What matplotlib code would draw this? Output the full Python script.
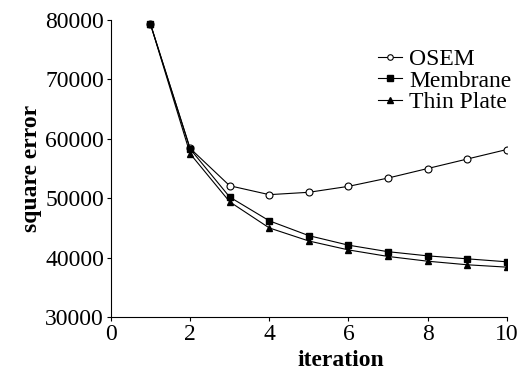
import matplotlib.pyplot as plt

iterations = [1, 2, 3, 4, 5, 6, 7, 8, 9, 10]
osem = [79300, 58400, 52100, 50600, 51000, 52000, 53400, 55000, 56600, 58200]
membrane = [79300, 58300, 50200, 46200, 43700, 42100, 41000, 40300, 39800, 39300]
thin_plate = [79300, 57500, 49400, 45000, 42800, 41300, 40200, 39400, 38800, 38400]

plt.rcParams['font.family'] = ['Liberation Serif', 'DejaVu Serif']

fig = plt.figure(figsize=(5.28, 3.77), dpi=100)
ax = fig.add_axes([0.21, 0.159, 0.75, 0.788])

ax.plot(iterations, osem, color='black', lw=0.8, marker='o', ms=5,
        mfc='white', mec='black', mew=0.8, label='OSEM')
ax.plot(iterations, membrane, color='black', lw=0.8, marker='s', ms=5,
        label='Membrane')
ax.plot(iterations, thin_plate, color='black', lw=0.8, marker='^', ms=5,
        label='Thin Plate')

ax.set_xlim(0, 10)
ax.set_ylim(30000, 80000)
ax.set_xticks([0, 2, 4, 6, 8, 10])
ax.set_yticks([30000, 40000, 50000, 60000, 70000, 80000])
ax.tick_params(labelsize=17, length=3, width=0.8, pad=2)
ax.spines['top'].set_visible(False)
ax.spines['right'].set_visible(False)

ax.set_xlabel('iteration', fontsize=17, fontweight='bold')
ax.xaxis.set_label_coords(0.58, -0.11)
ax.set_ylabel('square error', fontsize=17, fontweight='bold', labelpad=2)

ax.legend(loc='upper right', bbox_to_anchor=(1.065, 0.975), frameon=False,
          fontsize=17, handlelength=1.0, handletextpad=0.3, labelspacing=0.0,
          markerscale=0.8)

plt.savefig('out.png')
